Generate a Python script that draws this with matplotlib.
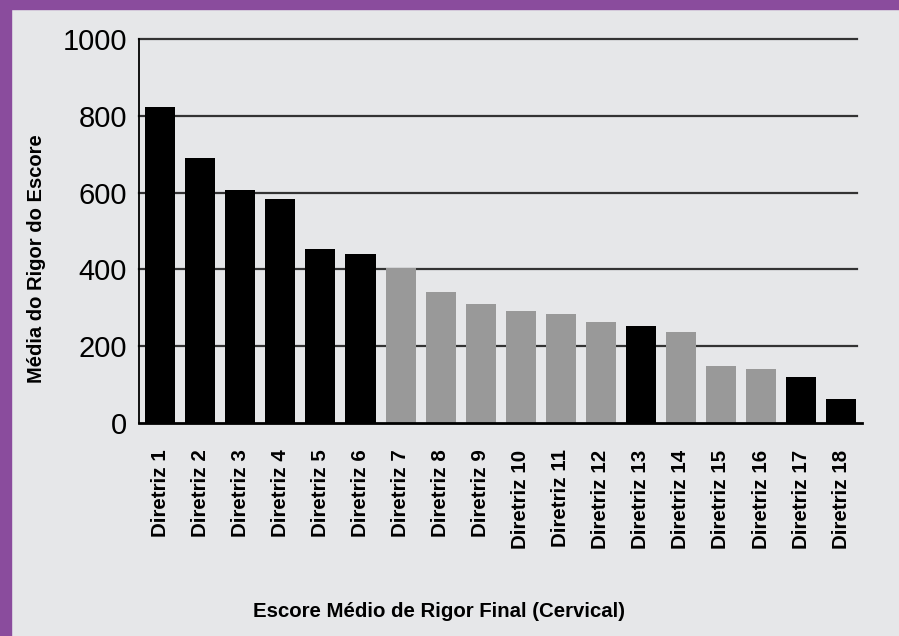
import numpy as np
import matplotlib.pyplot as plt
from matplotlib.patches import Rectangle

plt.rcParams['font.family'] = ['Liberation Sans', 'DejaVu Sans']

# dados
diretrizes = ['Diretriz %d' % i for i in range(1, 19)]
escores = [823, 690, 607, 583, 452, 439, 404, 341, 310, 292, 284, 263, 253, 238, 148, 140, 119, 62]
destaque = [1, 1, 1, 1, 1, 1, 0, 0, 0, 0, 0, 0, 1, 0, 0, 0, 1, 1]
yticks = [0, 200, 400, 600, 800, 1000]

bg = '#e6e7e9'
roxo = '#8a4c9d'

fig = plt.figure(figsize=(8.99, 6.36), dpi=100, facecolor=bg)
# moldura roxa (topo e esquerda)
fig.patches.append(Rectangle((0, 0), 11/899, 1, transform=fig.transFigure, color=roxo, zorder=0))
fig.patches.append(Rectangle((0, 1 - 9/636), 1, 9/636, transform=fig.transFigure, color=roxo, zorder=0))

ax = fig.add_axes([0.1546, 0.3349, 0.8042, 0.6038])
ax.set_facecolor(bg)

x = np.arange(len(escores))
cores = ['black' if d else '#999999' for d in destaque]
ax.bar(x, escores, width=0.75, color=cores, zorder=3)

for v in yticks[1:]:
    ax.axhline(v, xmax=0.993, color='#333333', lw=1.6, zorder=1, clip_on=False)

ax.set_ylim(0, 1000)
ax.set_xlim(-0.53, 17.52)

for s in ['top', 'right']:
    ax.spines[s].set_visible(False)
ax.spines['left'].set_linewidth(1.3)
ax.spines['bottom'].set_linewidth(2)
ax.spines['left'].set_zorder(4)
ax.spines['bottom'].set_zorder(4)

ax.set_yticks(yticks)
ax.set_yticklabels([str(v) for v in yticks], fontsize=21)
ax.tick_params(axis='y', length=0, pad=8.5)
ax.set_xticks(x)
ax.set_xticklabels(diretrizes, rotation=90, fontsize=14.8, fontweight='bold', va='top')
ax.tick_params(axis='x', length=0, pad=19)

ax.set_ylabel('Média do Rigor do Escore', fontsize=14.5, fontweight='bold')
ax.yaxis.set_label_coords(-0.1286, 0.427)
ax.set_xlabel('Escore Médio de Rigor Final (Cervical)', fontsize=14.7, fontweight='bold')
ax.xaxis.set_label_coords(0.415, -0.466)

fig.savefig('out.png', dpi=100, facecolor=bg)
